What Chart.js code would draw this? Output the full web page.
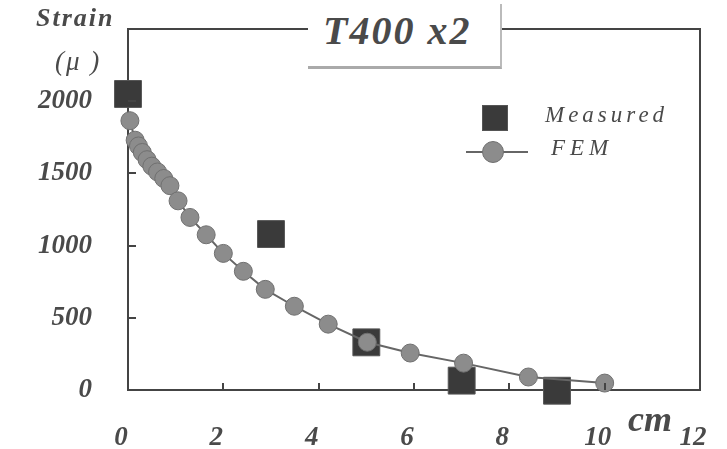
<!DOCTYPE html>
<html>
<head>
<meta charset="utf-8">
<script src="https://cdn.jsdelivr.net/npm/chart.js@4"></script>
<style>
  html, body { margin: 0; padding: 0; background: #fff; }
  #wrap { position: relative; width: 727px; height: 449px; overflow: hidden; }
  #grafico { position: absolute; left: 0; top: 0; }
  .txt { position: absolute; font-family: "Liberation Serif", serif; color: #4a4a4a; white-space: nowrap; line-height: 1; }
  .bi { font-weight: bold; font-style: italic; }
  .it { font-style: italic; }
  #tituloCaja { position: absolute; left: 308px; top: 4px; width: 192px; height: 62px; background: #fff;
                border-right: 2px solid #bbb; border-bottom: 3px solid #aaa; }
  .marca { position: absolute; }
</style>
</head>
<body>
<div id="wrap">
  <canvas id="grafico" width="727" height="449"></canvas>
  <div id="tituloCaja"></div>
  <div class="txt bi" style="left:323px; top:11px; font-size:40px; letter-spacing:2px;">T400 x2</div>
  <div class="txt bi" style="left:36px; top:5px; font-size:26px; letter-spacing:2px;">Strain</div>
  <div class="txt it" style="left:55px; top:48px; font-size:27px; letter-spacing:2px;">(μ )</div>
  <div class="txt bi" style="left:628px; top:401px; font-size:36px;">cm</div>

  <!-- leyenda -->
  <div class="marca" style="left:482px; top:105px; width:26px; height:26px; background:#3a3a3a; box-sizing:border-box; border:1px solid #555;"></div>
  <div class="marca" style="left:466px; top:151px; width:62px; height:2px; background:#666;"></div>
  <div class="marca" style="left:482px; top:141px; width:22px; height:22px; border-radius:50%; background:#8c8c8c; box-sizing:border-box; border:1px solid #707070;"></div>
  <div class="txt it" style="left:545px; top:103px; font-size:23px; letter-spacing:4px;">Measured</div>
  <div class="txt it" style="left:551px; top:136px; font-size:23px; letter-spacing:5px;">FEM</div>
</div>

<script>
// valores
const medidoX = [0, 3, 5, 7, 9];
const medidoY = [2050, 1080, 330, 65, -5];

const femX = [0.04, 0.15, 0.22, 0.3, 0.4, 0.5, 0.62, 0.75, 0.88, 1.05, 1.3, 1.64, 2.0, 2.42, 2.88, 3.49, 4.2, 5.02, 5.92, 7.04, 8.4, 10.0];
const femY = [1865, 1730, 1690, 1645, 1595, 1550, 1510, 1465, 1415, 1310, 1195, 1075, 946, 822, 697, 580, 456, 331, 256, 186, 90, 48];

const ticksX = [0, 2, 4, 6, 8, 10, 12];
const ticksY = [0, 500, 1000, 1500, 2000, 2500];

const colorTexto = '#4a4a4a';
const colorEje = '#444';

function aPuntos(xs, ys) {
    return xs.map((x, i) => ({ x: x, y: ys[i] }));
}

// marco superior/derecho y marcas hacia dentro
const marcoPlugin = {
    id: 'marco',
    afterDatasetsDraw(chart) {
        const { ctx, chartArea: a, scales } = chart;
        ctx.save();
        ctx.strokeStyle = colorEje;
        ctx.lineWidth = 2;
        ctx.beginPath();
        ctx.moveTo(a.left, a.top);
        ctx.lineTo(a.right, a.top);
        ctx.lineTo(a.right, a.bottom);
        ctx.stroke();

        ctx.beginPath();
        ticksY.slice(1, -1).forEach(v => {
            const y = Math.round(scales.y.getPixelForValue(v));
            ctx.moveTo(a.left, y);
            ctx.lineTo(a.left + 8, y);
        });
        ticksX.slice(1, -1).forEach(v => {
            const x = Math.round(scales.x.getPixelForValue(v));
            ctx.moveTo(x, a.bottom);
            ctx.lineTo(x, a.bottom - 7);
        });
        ctx.stroke();
        ctx.restore();
    }
};

const ctx = document.getElementById('grafico').getContext('2d');
new Chart(ctx, {
    type: 'scatter',
    data: {
        datasets: [
            {
                label: 'FEM',
                data: aPuntos(femX, femY),
                showLine: true,
                borderColor: '#666',
                borderWidth: 2,
                backgroundColor: '#8c8c8c',
                pointBorderColor: '#707070',
                pointBorderWidth: 1,
                pointRadius: 9,
                pointStyle: 'circle',
                order: 0,
                clip: false
            },
            {
                label: 'Measured',
                data: aPuntos(medidoX, medidoY),
                showLine: false,
                backgroundColor: '#3a3a3a',
                pointBorderColor: '#555',
                pointBorderWidth: 1,
                pointRadius: 19,
                pointStyle: 'rect',
                order: 1,
                clip: false
            }
        ]
    },
    options: {
        responsive: false,
        animation: false,
        layout: { padding: { top: 29, right: 27, bottom: 0, left: 0 } },
        plugins: {
            legend: { display: false },
            tooltip: { enabled: false }
        },
        scales: {
            x: {
                type: 'linear',
                min: 0,
                max: 12,
                afterBuildTicks: s => { s.ticks = ticksX.map(v => ({ value: v })); },
                afterFit: s => { s.height = 59; s.paddingRight = 0; s.paddingLeft = 0; },
                grid: { display: false, drawTicks: false },
                border: { display: true, color: colorEje, width: 2 },
                ticks: {
                    padding: 32,
                    labelOffset: -7,
                    color: colorTexto,
                    font: { family: 'Liberation Serif', size: 27, style: 'italic', weight: 'bold' },
                    maxRotation: 0
                }
            },
            y: {
                type: 'linear',
                min: 0,
                max: 2500,
                afterBuildTicks: s => { s.ticks = ticksY.map(v => ({ value: v })); },
                afterFit: s => { s.width = 128; s.paddingTop = 0; s.paddingBottom = 0; },
                grid: { display: false, drawTicks: false },
                border: { display: true, color: colorEje, width: 2 },
                ticks: {
                    padding: 36,
                    color: colorTexto,
                    font: { family: 'Liberation Serif', size: 27, style: 'italic', weight: 'bold' },
                    callback: v => (v === 2500 ? '' : String(v))
                }
            }
        }
    },
    plugins: [marcoPlugin]
});
</script>
</body>
</html>
